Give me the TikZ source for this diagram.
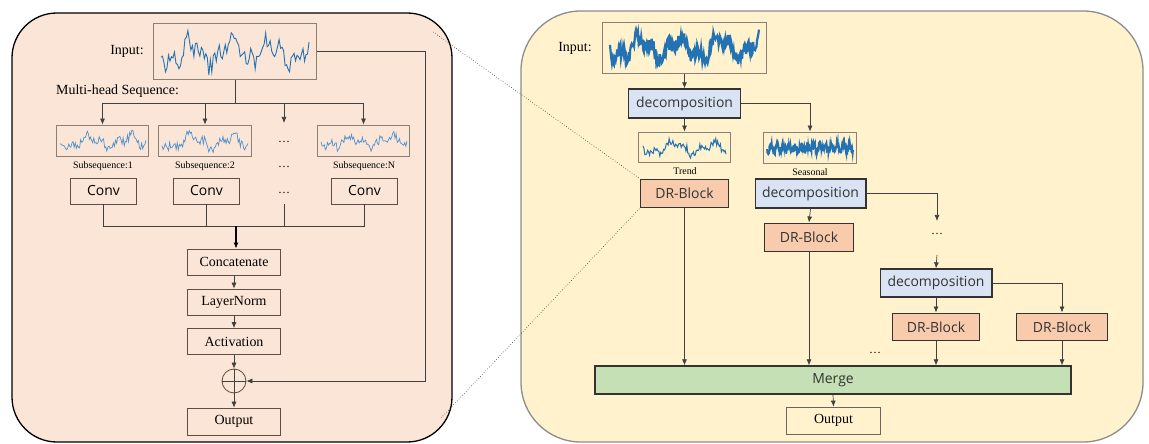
\documentclass[tikz,border=0pt]{standalone}
\usepackage{fontspec}
\setmainfont{Liberation Serif}
\newfontfamily\blkfont{Open Sans}
\usepackage{tikz}
\usetikzlibrary{arrows.meta}

\definecolor{leftbg}{HTML}{FBE5D6}
\definecolor{rightbg}{HTML}{FFF2CC}
\definecolor{decfill}{HTML}{DAE3F3}
\definecolor{drfill}{HTML}{F8CBAD}
\definecolor{mergefill}{HTML}{C5E0B4}
\definecolor{sigblue}{HTML}{2272B4}
\definecolor{subblue}{HTML}{4F92CC}
\definecolor{boxline}{HTML}{5E4E46}
\definecolor{imgline}{HTML}{8C7F74}
\definecolor{conline}{HTML}{404040}

% noisy series: style, x0, width, centre y, amplitude, samples, seed
\newcommand{\sigline}[7]{%
  \pgfmathsetseed{#7}
  \draw[#1] plot[domain=0:#3, samples=#6] ({#2+\x}, {#4 + #5*(0.45*sin(\x*9)+0.3*sin(\x*23+30)+0.4*rand)});
}

\begin{document}
\begin{tikzpicture}[x=1bp,y=-1bp,>={Latex[length=6bp,width=5bp]}]
				\tikzstyle{lbl} = [inner sep=0pt, font=\fontsize{14}{16}\selectfont]
				\tikzstyle{tiny} = [inner sep=0pt, font=\fontsize{10}{12}\selectfont]
				\tikzstyle{img} = [draw=imgline, line width=0.9bp]
				\tikzstyle{box} = [draw=boxline, line width=0.8bp, inner sep=0pt, font=\fontsize{14}{16}\selectfont]
				\tikzstyle{conv} = [box, minimum width=67, minimum height=26, font=\blkfont\fontsize{14}{16}\selectfont]
				\tikzstyle{stage} = [box, minimum width=94, minimum height=26]
				\tikzstyle{blk} = [draw=black!80, line width=1.1bp, inner sep=0pt, minimum height=29, font=\blkfont\fontsize{14}{16}\selectfont, text=black!80]
				\tikzstyle{dec} = [blk, fill=decfill, line width=1.4bp, minimum width=112]
				\tikzstyle{drb} = [blk, fill=drfill, minimum width=89]
				\tikzstyle{con} = [draw=conline, line width=0.7bp]
				\tikzstyle{dots} = [inner sep=0pt, font=\fontsize{12}{14}\selectfont]
				
				\useasboundingbox (0,0) rectangle (1149,444);
				
				% panels
				\draw[fill=leftbg, line width=1.3bp, rounded corners=45] (12,13) rectangle (452,442);
				\draw[fill=rightbg, draw=black!45, line width=1.3bp, rounded corners=60] (521,11) rectangle (1143,442);
				
				% ---------- left: multi-head block ----------
				\node[lbl] (inL) at (127,51) {Input:};
				\node[img, minimum width=164, minimum height=57] (sigL) at (235,51.5) {};
				\sigline{sigblue, line width=0.9bp}{161}{148}{52}{22}{100}{7}
				\node[lbl, anchor=west] (mhs) at (56,91) {Multi-head Sequence:};
				
				\node[img, minimum width=93, minimum height=32] (sub1) at (102.5,141) {};
				\node[img, minimum width=93, minimum height=32] (sub2) at (205,141) {};
				\node[img, minimum width=93, minimum height=32] (subN) at (363.5,141) {};
				\sigline{subblue, line width=0.7bp}{60}{86}{142}{11}{80}{11}
				\sigline{subblue, line width=0.7bp}{162}{86}{142}{11}{80}{12}
				\sigline{subblue, line width=0.7bp}{321}{86}{142}{11}{80}{13}
				\node[dots] (sdots) at (284,142) {…};
				
				\node[tiny] (sl1) at (103,166) {Subsequence:1};
				\node[tiny] (sl2) at (205,166) {Subsequence:2};
				\node[dots] (slD) at (284,167) {…};
				\node[tiny] (slN) at (364,166) {Subsequence:N};
				
				\node[conv] (conv1) at (103.5,191) {Conv};
				\node[conv] (conv2) at (206.5,191) {Conv};
				\node[conv] (convN) at (364.5,191) {Conv};
				\node[dots] (cdots) at (284,193) {…};
				
				\node[stage] (concat) at (234,262) {Concatenate};
				\node[stage] (norm) at (234,302) {LayerNorm};
				\node[stage] (act) at (234,341.5) {Activation};
				\node[circle, draw=boxline, line width=0.8bp, minimum size=24, inner sep=0pt] (plus) at (234,381) {};
				\node[stage, minimum height=27] (outL) at (234,421.5) {Output};
				
				\coordinate (split) at (235,103);
				\coordinate (dotArr) at (284,123);
				\coordinate (dotLine) at (284,204);
				\coordinate (join) at (236,226);
				\coordinate (res) at (425,381);
				
				\draw[con] (sigL.south) -- (split);
				\draw[con] (sub1.north |- split) -- (subN.north |- split);
				\draw[con,->] (sub1.north |- split) -- (sub1.north);
				\draw[con,->] (sub2.north |- split) -- (sub2.north);
				\draw[con,->] (dotArr |- split) -- (dotArr);
				\draw[con,->] (subN.north |- split) -- (subN.north);
				
				\draw[con] (conv1.south) -- (conv1.south |- join) -- (convN.south |- join) -- (convN.south);
				\draw[con] (conv2.south) -- (conv2.south |- join);
				\draw[con] (dotLine) -- (dotLine |- join);
				\draw[->, line width=1.3bp] (join) -- (join |- concat.north);
				
				\draw[con,->] (concat) -- (norm);
				\draw[con,->] (norm) -- (act);
				\draw[con,->] (act) -- (plus);
				\draw[con,->] (plus) -- (outL);
				\draw[con] (plus.north) -- (plus.south);
				\draw[con] (plus.west) -- (plus.east);
				\draw[con,->] (sigL.east) -| (res) -- (plus.east);
				
				% ---------- right: decomposition tree ----------
				\node[lbl] (inR) at (575,48) {Input:};
				\node[img, minimum width=165, minimum height=52] (sigR) at (684.5,48) {};
				\sigline{sigblue, line width=2.2bp}{610}{149}{48}{19}{230}{21}
				
				\node[dec] (dec1) at (684.5,103.5) {decomposition};
				\node[img, minimum width=93, minimum height=31] (trend) at (684.5,147.5) {};
				\sigline{sigblue, line width=1bp}{643}{83}{148}{10}{90}{31}
				\node[tiny] (trendL) at (685,171) {Trend};
				\node[img, minimum width=94, minimum height=32] (seas) at (810,148) {};
				\pgfmathsetseed{41}
				\draw[sigblue, line width=1.8bp] plot[domain=0:86, samples=260] ({767+\x}, {148 + 7*(0.6*rand+0.4*sin(\x*60))});
				\node[tiny] (seasL) at (810,172) {Seasonal};
				
				\node[drb] (dr1) at (684.5,193.5) {DR-Block};
				\node[dec, minimum width=111] (dec2) at (810.5,193.5) {decomposition};
				\node[drb, minimum width=90] (dr2) at (809,237.5) {DR-Block};
				\node[dots] (rdots1) at (937,234) {…};
				\node[dec, minimum width=112, minimum height=28] (dec3) at (936,283) {decomposition};
				\node[drb, minimum width=88, minimum height=28] (dr3) at (936,327) {DR-Block};
				\node[drb, minimum width=92, minimum height=28] (dr4) at (1062,327) {DR-Block};
				\node[dots] (rdots2) at (875,353) {…};
				\node[blk, fill=mergefill, line width=1.4bp, minimum width=478, minimum height=28] (merge) at (833,380) {Merge};
				\node[box, draw=black!60, minimum width=95, minimum height=27] (outR) at (833.5,420.5) {Output};
				
				\coordinate (d2r) at (937,221);
				\coordinate (d3t) at (937,255);
				
				\draw[con,->] (sigR.south) -- (dec1.north);
				\draw[con,->] (dec1.south) -- (trend.north);
				\draw[con,->] (dec1.east) -| (seas.north);
				\draw[con,->] (dec2.south) -- (dr2.north);
				\draw[con,->] (dec2.east) -| (d2r);
				\draw[con,->] (d3t) -- (dec3.north);
				\draw[con,->] (dec3.south) -- (dr3.north);
				\draw[con,->] (dec3.east) -| (dr4.north);
				\draw[con,->] (dr1.south) -- (dr1.south |- merge.north);
				\draw[con,->] (dr2.south) -- (dr2.south |- merge.north);
				\draw[con,->] (dr3.south) -- (dr3.south |- merge.north);
				\draw[con,->] (dr4.south) -- (dr4.south |- merge.north);
				\draw[con,->] (merge.south) -- (outR.north);
				
				% zoom lines
				\coordinate (zoomA) at (433,32);
				\coordinate (zoomB) at (441,418);
				\draw[dotted, line width=0.6bp, black!80] (zoomA) -- (dr1.north west);
				\draw[dotted, line width=0.6bp, black!80] (zoomB) -- (dr1.south west);
\end{tikzpicture}
\end{document}
